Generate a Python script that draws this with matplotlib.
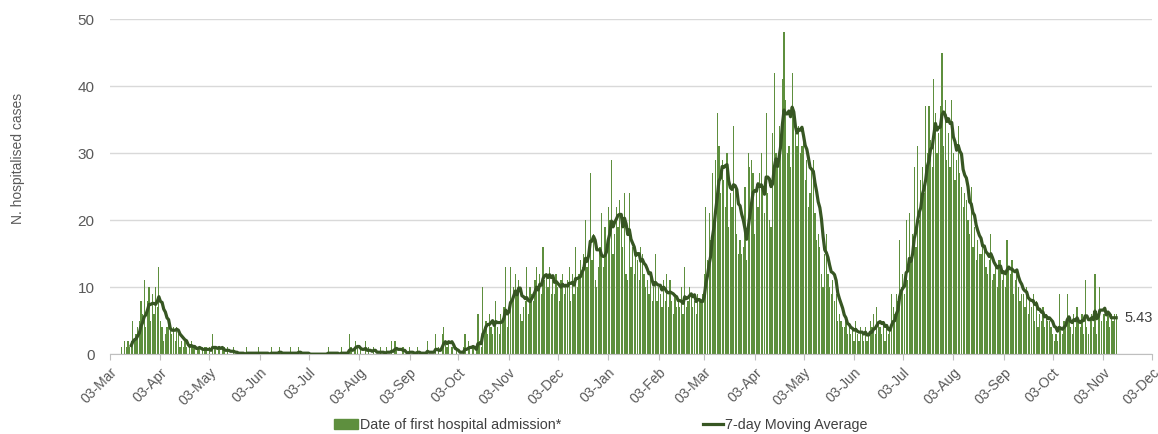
import numpy as np
import pandas as pd
import matplotlib
matplotlib.use('Agg')
import matplotlib.pyplot as plt
import matplotlib.dates as mdates
from matplotlib.patches import Patch
from matplotlib.lines import Line2D

# daily hospital admissions
mar20 = [1,0,2,1,2,1,2,5,2,3, 4,5,8,6,11,4,8,10,5,9, 6,10]  # from 10 Mar
apr20 = [7,13,5,4,2,3,4,5,4,3, 4,2,4,3,1,2,1,2,1,0, 1,2,1,1,0,1,1,0,1,1]
may20 = [1,0,1,0,3,1,1,0,1,0, 1,1,0,1,0,0,0,1,0,0, 0,0,0,0,0,1,0,0,0,0, 0]
jun20 = [0,1,0,0,0,0,0,0,0,1, 0,0,0,0,1,0,0,0,0,0, 0,1,0,0,0,0,1,0,0,0]
jul20 = [0,0,0,0,0,0,0,0,0,0, 0,0,0,0,1,0,0,0,0,0, 0,0,1,0,0,0,0,3,1,0, 1]
aug20 = [2,1,0,1,0,0,2,0,1,0, 0,1,0,0,0,1,0,0,0,1, 0,0,2,0,2,1,0,0,0,1, 0]
sep20 = [0,0,1,0,0,0,0,1,0,0, 0,0,0,2,0,0,0,0,3,0, 1,0,3,4,2,1,2,0,1,0]
oct20 = [0,1,0,0,0,1,3,0,2,1, 0,1,0,1,6,2,1,10,4,5, 3,6,4,3,5,8,4,3,6,5, 7]
nov20 = [13,4,6,13,8,10,12,9,11,6, 5,7,8,13,6,10,9,8,11,13, 10,12,9,16,11,12,10,13,9,11]
dec20 = [9,12,10,8,11,12,9,10,11,13, 8,12,9,16,10,12,14,13,15,20, 13,16,27,14,18,11,10,13,16,21, 13]
jan21 = [19,15,22,20,29,15,18,22,19,23, 20,16,24,12,11,24,13,16,12,15, 14,11,16,15,12,10,11,9,12,8, 10]
feb21 = [15,8,10,9,7,11,8, 12,7,11,8,6,9,7, 8,7,10,6,13,7,8, 10,9,7,8,6,9,8]
mar21 = [8,9,12,22,14,21,17,27,20,29, 36,31,24,29,26,22,30,19,24,22, 34,25,18,15,17,15,16,25,14,30, 28]
apr21 = [29,27,18,24,22,27,30,25,21,36, 24,20,19,33,42,30,28,34,32,41, 48,38,30,31,28,42,36,33,31,34]
may21 = [30,31,33,26,29,22,24,28,29,21, 17,18,16,12,10,15,18,12,10,9, 11,8,9,5,6,5,4,4,5,3, 4]
jun21 = [3,4,2,5,3,2,4,3,2,4, 2,3,5,4,6,3,7,5,4,3, 5,2,4,3,4,9,7,6,9,8]
jul21 = [17,10,12,9,20,11,21,14,18,28, 16,31,20,26,28,24,37,30,37,32, 28,41,36,30,33,37,45,31,38,29, 33]
aug21 = [28,38,30,26,29,34,27, 25,22,24,23,20,18,25, 16,19,14,17,15,15,17, 16,13,12,14,18,11,12, 13,10,14]
sep21 = [14,11,12,10,17,13,12, 14,9,11,12,10,8,9, 9,7,10,6,8,7,9, 5,8,4,6,5,7,4, 6,5]
oct21 = [5,4,3,2,3,2,9,4,3,5, 4,9,5,4,3,6,4,7,5,4, 6,3,11,4,3,5,6,4,12,3, 6]
nov21 = [10,5,6,6,5,6,4,6,5,6,6]

months = [('2020-03-10', mar20), ('2020-04-01', apr20), ('2020-05-01', may20),
          ('2020-06-01', jun20), ('2020-07-01', jul20), ('2020-08-01', aug20),
          ('2020-09-01', sep20), ('2020-10-01', oct20), ('2020-11-01', nov20),
          ('2020-12-01', dec20), ('2021-01-01', jan21), ('2021-02-01', feb21),
          ('2021-03-01', mar21), ('2021-04-01', apr21), ('2021-05-01', may21),
          ('2021-06-01', jun21), ('2021-07-01', jul21), ('2021-08-01', aug21),
          ('2021-09-01', sep21), ('2021-10-01', oct21), ('2021-11-01', nov21)]

parts = [pd.Series(v, index=pd.date_range(s, periods=len(v), freq='D')) for s, v in months]
cases = pd.concat(parts)
ma7 = cases.rolling(7).mean()

bar_col = '#5e8f3e'
line_col = '#375623'
grey = '#595959'

fig = plt.figure(figsize=(11.58, 4.34), dpi=100)
ax = fig.add_axes([0.095, 0.184, 0.8998, 0.772])

ax.bar(cases.index, cases.values, width=0.75, color=bar_col, linewidth=0, zorder=2)
ax.plot(ma7.index, ma7.values, color=line_col, linewidth=2.3, zorder=3)

last_x, last_y = ma7.index[-1], ma7.values[-1]
ax.annotate(f'{last_y:.2f}', (last_x, last_y), xytext=(6, 0), textcoords='offset points',
            va='center', ha='left', fontsize=10.5, color='#404040', family='Liberation Sans')

ax.set_xlim(pd.Timestamp('2020-03-03'), pd.Timestamp('2021-12-03'))
ax.set_ylim(0, 50)
ax.set_yticks(range(0, 51, 10))
ax.xaxis.set_major_locator(mdates.MonthLocator(bymonthday=3))
ax.xaxis.set_major_formatter(mdates.DateFormatter('%d-%b'))
for lab in ax.get_xticklabels():
    lab.set_rotation(45)
    lab.set_ha('right')
    lab.set_rotation_mode('anchor')
    lab.set_family('Liberation Sans')
for lab in ax.get_yticklabels():
    lab.set_family('Liberation Sans')
ax.tick_params(axis='x', colors=grey, labelsize=10, length=4, color='#bfbfbf', pad=4)
ax.tick_params(axis='y', colors=grey, labelsize=11, length=0, pad=11)
ax.grid(axis='y', color='#d9d9d9', linewidth=1, zorder=0)
for s in ['top', 'right', 'left']:
    ax.spines[s].set_visible(False)
ax.spines['bottom'].set_color('#bfbfbf')
ax.set_ylabel('N. hospitalised cases', color=grey, fontsize=10, family='Liberation Sans')
ax.yaxis.set_label_coords(-0.082, 0.585)

leg_font = {'family': 'Liberation Sans', 'size': 10.3}
leg1 = fig.legend([Patch(color=bar_col)], ['Date of first hospital admission*'],
                  loc='center left', bbox_to_anchor=(334 / 1158, 9 / 434), frameon=False,
                  borderpad=0, borderaxespad=0, handlelength=1.65, handleheight=0.65,
                  handletextpad=0.15, prop=leg_font, labelcolor='#404040')
leg2 = fig.legend([Line2D([0], [0], color=line_col, linewidth=2.3)], ['7-day Moving Average'],
                  loc='center left', bbox_to_anchor=(703 / 1158, 9 / 434), frameon=False,
                  borderpad=0, borderaxespad=0, handlelength=1.4,
                  handletextpad=0.15, prop=leg_font, labelcolor='#404040')

fig.savefig('out.png', dpi=100)
